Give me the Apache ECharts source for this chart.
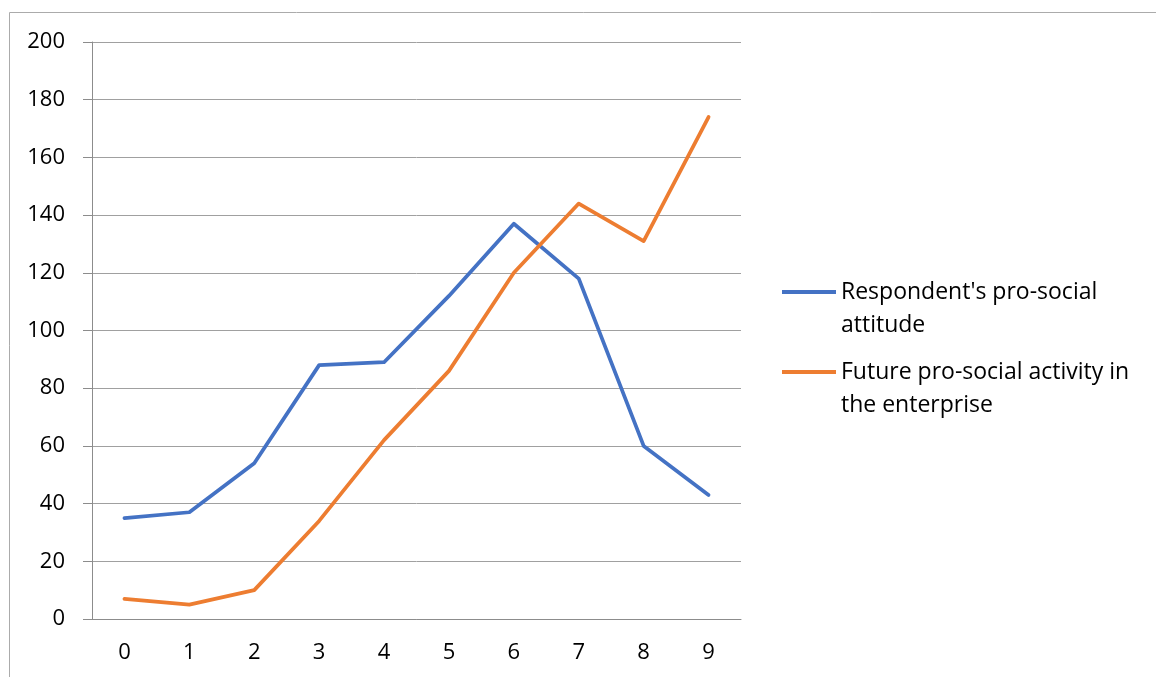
<!DOCTYPE html>
<html>
<head>
<meta charset="utf-8">
<script src="https://cdn.jsdelivr.net/npm/echarts@6/dist/echarts.min.js"></script>
<style>
  html, body { margin: 0; padding: 0; background: #fff; }
  #main { width: 1156px; height: 677px; }
</style>
</head>
<body>
<div id="main"></div>
<script>
// categories on the x axis
var categories = ['0', '1', '2', '3', '4', '5', '6', '7', '8', '9'];
// series values
var attitude = [35, 37, 54, 88, 89, 112, 137, 118, 60, 43];
var activity = [7, 5, 10, 34, 62, 86, 120, 144, 131, 174];
var seriesNames = ["Respondent's pro-social attitude", 'Future pro-social activity in the enterprise'];
// legend text as it wraps in the picture
var legendText = {};
legendText[seriesNames[0]] = "Respondent's pro-social\nattitude";
legendText[seriesNames[1]] = 'Future pro-social activity in\nthe enterprise';

var chart = echarts.init(document.getElementById('main'));

var font = 'Open Sans';
var legendStyle = {
  fontFamily: font,
  fontSize: 23,
  lineHeight: 33,
  color: '#000'
};

function makeLegend(name, y) {
  return {
    data: [name],
    orient: 'vertical',
    left: 782,
    top: y - 49.5,
    padding: 0,
    icon: 'rect',
    itemWidth: 54,
    itemHeight: 4,
    textStyle: legendStyle,
    // blank first line keeps the icon level with the first text line
    formatter: function (n) { return '\n' + legendText[n]; }
  };
}

chart.setOption({
  animation: false,
  color: ['#4472C4', '#ED7D31'],
  graphic: [{
    type: 'rect',
    silent: true,
    shape: { x: 9.5, y: 12.5, width: 1200, height: 700 },
    style: { fill: 'none', stroke: '#ababab', lineWidth: 1 }
  }],
  grid: { left: 92, right: 415, top: 42, bottom: 58 },
  legend: [
    makeLegend(seriesNames[0], 292),
    makeLegend(seriesNames[1], 372)
  ],
  xAxis: {
    type: 'category',
    data: categories,
    boundaryGap: true,
    axisLine: { lineStyle: { color: '#8c8c8c', width: 1 } },
    axisTick: { length: 8, lineStyle: { color: '#8c8c8c' } },
    axisLabel: { color: '#000', fontFamily: font, fontSize: 22, margin: 23 },
    splitLine: { show: false }
  },
  yAxis: {
    type: 'value',
    min: 0,
    max: 200,
    interval: 20,
    axisLine: { show: true, lineStyle: { color: '#8c8c8c', width: 1 } },
    axisTick: { show: true, length: 9, lineStyle: { color: '#8c8c8c' } },
    axisLabel: { color: '#000', fontFamily: font, fontSize: 22, margin: 27 },
    splitLine: { lineStyle: { color: '#a0a0a0', width: 1 } }
  },
  series: [
    {
      name: seriesNames[0],
      type: 'line',
      data: attitude,
      symbol: 'none',
      lineStyle: { width: 3.75, cap: 'round', join: 'round' }
    },
    {
      name: seriesNames[1],
      type: 'line',
      data: activity,
      symbol: 'none',
      lineStyle: { width: 3.75, cap: 'round', join: 'round' }
    }
  ]
});
</script>
</body>
</html>
